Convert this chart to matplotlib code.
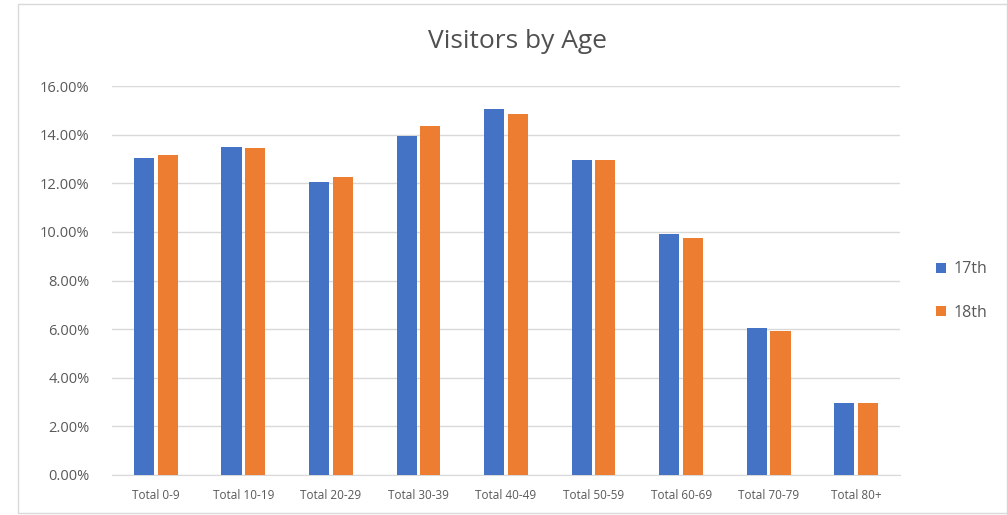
import matplotlib
matplotlib.use('Agg')
import matplotlib.pyplot as plt
import numpy as np
from matplotlib.ticker import FuncFormatter

categories = ['Total 0-9', 'Total 10-19', 'Total 20-29', 'Total 30-39', 'Total 40-49',
              'Total 50-59', 'Total 60-69', 'Total 70-79', 'Total 80+']
day17 = [13.03, 13.50, 12.06, 13.95, 15.06, 12.95, 9.93, 6.06, 2.96]
day18 = [13.17, 13.44, 12.25, 14.37, 14.86, 12.95, 9.74, 5.94, 2.96]
series_names = ['17th', '18th']

plt.rcParams['font.family'] = ['Open Sans', 'DejaVu Sans']

fig = plt.figure(figsize=(10.07, 5.15), dpi=100)
ax = fig.add_axes([112 / 1007, 1 - 475 / 515, 788 / 1007, 389 / 515])

x = np.arange(len(categories))
w = 0.23
ax.bar(x - 0.135, day17, w, color='#4472C4', label=series_names[0], zorder=3)
ax.bar(x + 0.135, day18, w, color='#ED7D31', label=series_names[1], zorder=3)

ax.set_xlim(-0.5, len(categories) - 0.5)
ax.set_ylim(0, 16)
ax.set_yticks(np.arange(0, 17, 2))
ax.yaxis.set_major_formatter(FuncFormatter(lambda v, p: '%.2f%%' % v))
ax.grid(axis='y', color='#D9D9D9', linewidth=1, zorder=0)
ax.set_xticks(x)
ax.set_xticklabels(categories, fontsize=8.5, color='#595959')
ax.tick_params(axis='y', labelsize=10.5, colors='#595959', length=0, pad=16)
ax.tick_params(axis='x', length=0, pad=10)
for s in ['top', 'right', 'left']:
    ax.spines[s].set_visible(False)
ax.spines['bottom'].set_color('#D9D9D9')

fig.text(517 / 1007, 1 - 41 / 515, 'Visitors by Age', ha='center', va='center',
         fontsize=19, color='#505050')

ax.legend(loc='center left', bbox_to_anchor=(922 / 1007, 1 - 291 / 515),
          bbox_transform=fig.transFigure, frameon=False, fontsize=11.5,
          handlelength=0.6, handleheight=0.6, labelspacing=1.7, handletextpad=0.45,
          labelcolor='#595959')

border = plt.Rectangle((18 / 1007, 2 / 515), 1 - 18 / 1007, 1 - 6 / 515,
                       transform=fig.transFigure, fill=False, edgecolor='#D9D9D9', linewidth=1)
fig.patches.append(border)

fig.savefig('out.png', dpi=100)
